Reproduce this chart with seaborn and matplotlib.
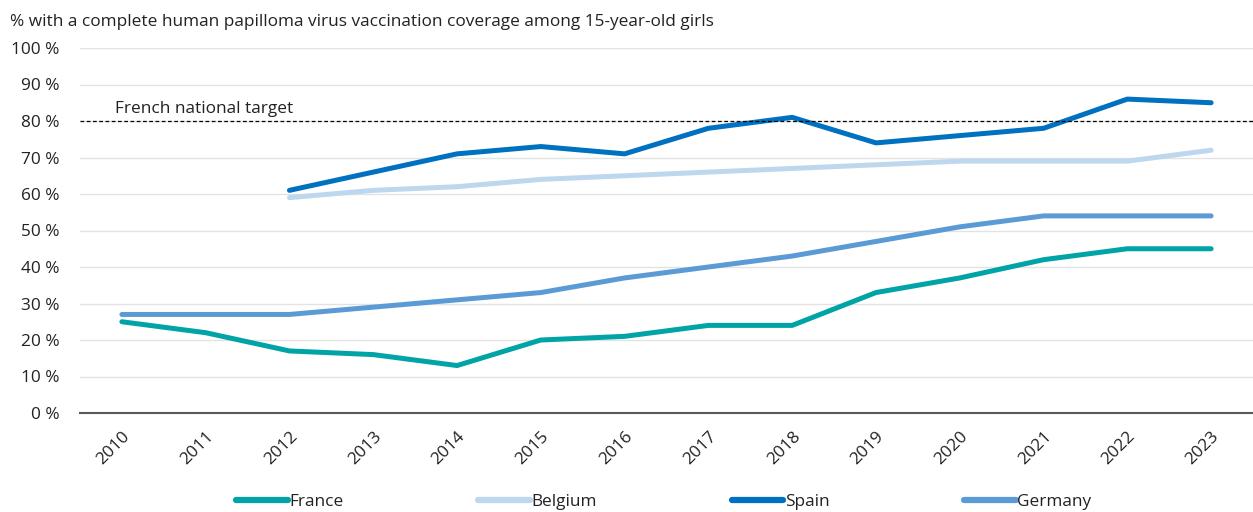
import matplotlib
matplotlib.use("Agg")
import matplotlib.pyplot as plt
import seaborn as sns
import pandas as pd
import numpy as np
from matplotlib.lines import Line2D

years = list(range(2010, 2024))
france = [25, 22, 17, 16, 13, 20, 21, 24, 24, 33, 37, 42, 45, 45]
belgium = [None, None, 59, 61, 62, 64, 65, 66, 67, 68, 69, 69, 69, 72]
spain = [None, None, 61, 66, 71, 73, 71, 78, 81, 74, 76, 78, 86, 85]
germany = [27, 27, 27, 29, 31, 33, 37, 40, 43, 47, 51, 54, 54, 54]
countries = ["France", "Belgium", "Spain", "Germany"]
colors = ["#00A4A6", "#BDD7EE", "#0070C0", "#5B9BD5"]
target = 80
subtitle = "% with a complete human papilloma virus vaccination coverage among 15-year-old girls"
target_label = "French national target"

rows = []
for c, vals in zip(countries, [france, belgium, spain, germany]):
    for y, v in zip(years, vals):
        if v is not None:
            rows.append({"year": y, "value": v, "country": c})
df = pd.DataFrame(rows)

sns.set_theme(style="white")
plt.rcParams['font.family'] = ['Open Sans', 'DejaVu Sans']

FS = 12.4
fig = plt.figure(figsize=(12.53, 5.12), dpi=100)
ax = fig.add_axes([80/1253, 1-413/512, 1-80/1253, (413-48)/512])

sns.lineplot(data=df, x="year", y="value", hue="country", hue_order=countries,
             palette=colors, linewidth=3.6, ax=ax, legend=False)
for ln in ax.get_lines():
    ln.set_solid_capstyle("round")
    ln.set_solid_joinstyle("round")

ax.set_xlim(2009.5, 2023.5)
ax.set_ylim(0, 100)
ax.set_yticks(range(0, 101, 10))
ax.set_yticklabels([f"{v} %" for v in range(0, 101, 10)], fontsize=FS, color="#222222")
ax.set_xticks(years)
ax.set_xticklabels([str(y) for y in years], rotation=45, ha="right", rotation_mode="anchor", fontsize=FS, color="#222222")
ax.tick_params(axis='x', pad=11, length=0)
ax.tick_params(axis='y', pad=14.5, length=0)
ax.grid(axis='y', color="#E3E3E3", linewidth=1)
ax.set_axisbelow(True)
for s in ["top", "right", "left"]:
    ax.spines[s].set_visible(False)
ax.spines["bottom"].set_color("#595959")
ax.spines["bottom"].set_linewidth(1.5)
ax.set_xlabel("")
ax.set_ylabel("")

ax.axhline(target, color="black", linestyle=(0, (3, 2)), linewidth=0.9)
ax.text(2009.92, target + 1.2, target_label, fontsize=FS, color="#222222", va="bottom", ha="left")

fig.text(10/1253, 1-22/512, subtitle, fontsize=FS, color="#222222", va="center", ha="left")

handles = [Line2D([0], [0], color=c, linewidth=4.5, solid_capstyle="round") for c in colors]
leg = fig.legend(handles, countries, loc="center", bbox_to_anchor=(664/1253, 1-502/512), ncol=4,
                 frameon=False, fontsize=FS, handlelength=3.0, handletextpad=0.1, columnspacing=7.8)
for t in leg.get_texts():
    t.set_color("#222222")

fig.savefig("out.png", dpi=100)
